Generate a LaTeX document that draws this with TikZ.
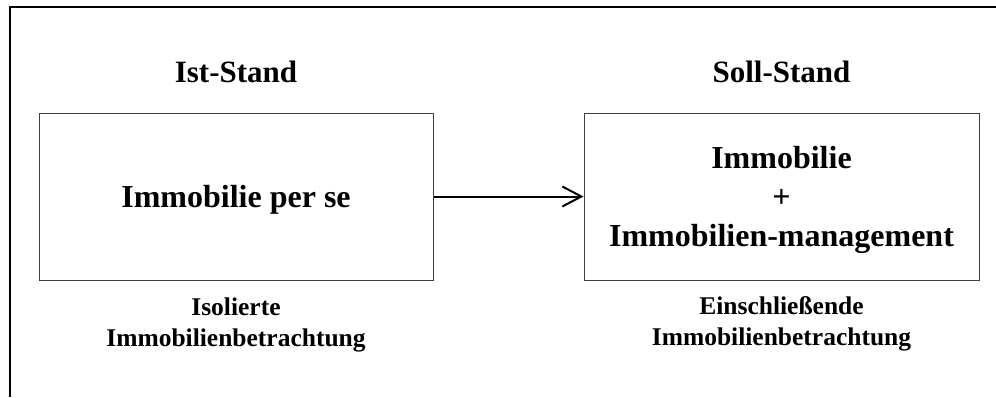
\documentclass[tikz,border=0pt]{standalone}
\usepackage{fontspec}
\setmainfont{Liberation Serif}
\usetikzlibrary{arrows.meta, positioning}

\begin{document}
\begin{tikzpicture}[
    x=1pt, y=-1pt,
    node distance=30pt,
    stand/.style={font=\fontsize{31}{37}\selectfont\bfseries, inner sep=0pt},
    zbox/.style={draw=black!75, line width=1pt, minimum width=394pt, minimum height=167pt, text depth=0pt, align=center, font=\fontsize{32}{39}\selectfont\bfseries},
    caption/.style={align=center, inner sep=0pt, font=\fontsize{25.5}{31}\selectfont\bfseries},
    arrow/.style={-{Straight Barb[length=19pt,width=20pt]}, line width=2pt}
  ]
    \useasboundingbox (0,0) rectangle (996,397);
    \draw[line width=2.5pt] (10,397) -- (10,7) -- (996,7);

    \node[zbox] (ist) at (236,196.5) {Immobilie per se};
    \node[zbox, minimum width=395pt] (soll) at (781.5,196.5) {Immobilie\\+\\Immobilien-management};

    \node[stand, above=30pt of ist, anchor=base] (istlbl) {Ist-Stand};
    \node[stand, above=30pt of soll, anchor=base] (solllbl) {Soll-Stand};

    % base of a two-line node is its last line
    \node[caption, below=66pt of ist, anchor=base] (istcap) {Isolierte\\Immobilienbetrachtung};
    \node[caption, below=65pt of soll, anchor=base] (sollcap) {Einschließende\\Immobilienbetrachtung};

    \draw[arrow] (ist) -- (soll);

  \end{tikzpicture}
\end{document}
